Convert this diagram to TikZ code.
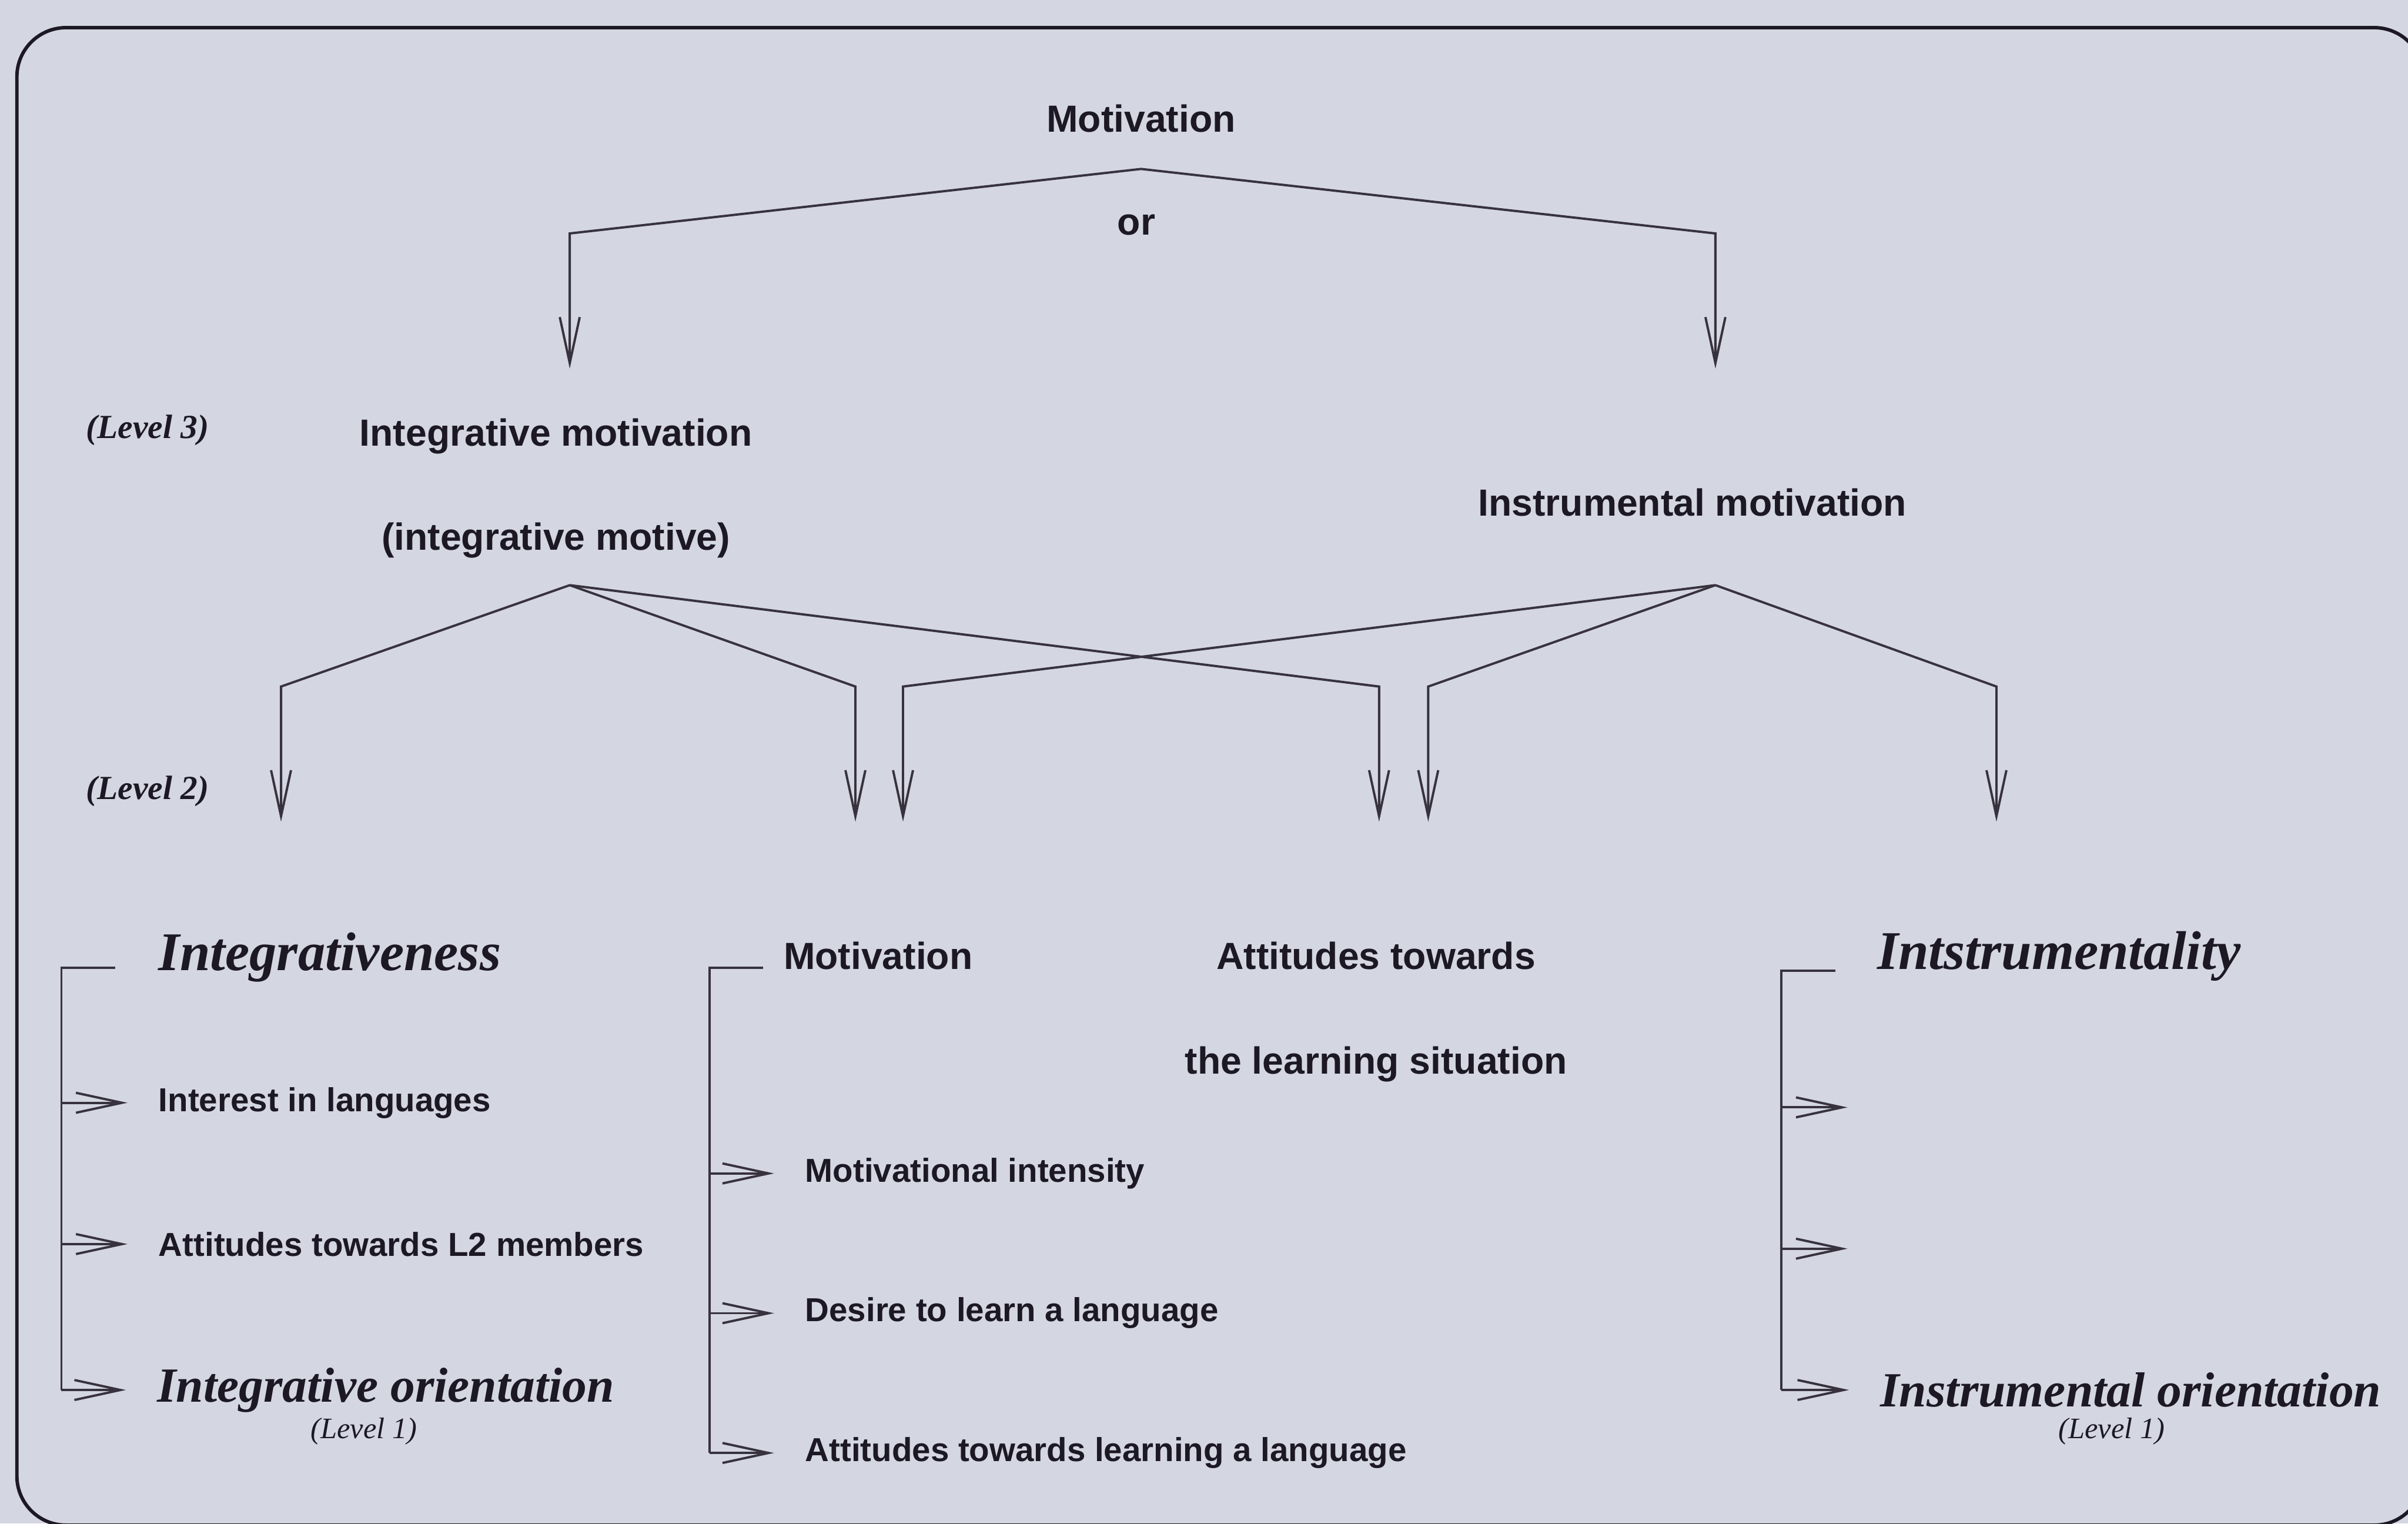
\documentclass[tikz,border=0pt]{standalone}
\usepackage{fontspec}
\setmainfont{Liberation Serif}
\setsansfont{Liberation Sans}
\usetikzlibrary{arrows.meta, calc}

\definecolor{paper}{RGB}{212,214,226}
\definecolor{ink}{RGB}{28,24,36}
\definecolor{wire}{RGB}{55,50,62}

\begin{document}
\begin{tikzpicture}[
    x=0.2mm, y=-0.2mm,
    text=ink,
    head/.style={font=\sffamily\bfseries\fontsize{14}{17}\selectfont, inner sep=0pt},
    item/.style={font=\sffamily\bfseries\fontsize{12.3}{15}\selectfont, inner sep=0pt, anchor=west},
    concept/.style={font=\rmfamily\bfseries\itshape\fontsize{20.2}{24}\selectfont, inner sep=0pt},
    orient/.style={font=\rmfamily\bfseries\itshape\fontsize{18.2}{22}\selectfont, inner sep=0pt, anchor=west},
    lvl/.style={font=\rmfamily\itshape\fontsize{11}{13}\selectfont, inner sep=0pt},
    lvlb/.style={font=\rmfamily\bfseries\itshape\fontsize{12.5}{14}\selectfont, inner sep=0pt},
    arrow/.style={-{Straight Barb[length=6mm, width=2.6mm]}, draw=wire, line width=0.3mm},
    bracket/.style={draw=wire, line width=0.3mm},
    frame/.style={draw=ink, line width=0.45mm, rounded corners=6.4mm},
]

\path[use as bounding box, fill=paper] (0,0) rectangle (1568,992);
\clip (0,0) rectangle (1568,992);
\draw[frame] (11,18) rectangle (1578,993);

% level 3
\node[head, anchor=base] (mot) at (743,86) {Motivation};
\node[head, anchor=base] (or) at (740,153) {or};
\node[lvlb] (lev3) at (96,280) {(Level 3)};
\node[head, anchor=north, align=center] (intm) at (362,272) {Integrative motivation\\[21.7pt](integrative motive)};
\node[head, anchor=base] (instm) at (1102,336) {Instrumental motivation};

% level 2
\node[lvlb] (lev2) at (96,515) {(Level 2)};
\node[concept, anchor=base west] (intg) at (103,632) {Integrativeness};
\node[head, anchor=base west] (motv) at (510,631) {Motivation};
\node[head, anchor=north, align=center] (atts) at (896,613) {Attitudes towards\\[21.7pt]the learning situation};
\node[concept, anchor=base west] (instr) at (1222,631) {Intstrumentality};

% level 1
\node[item] (intr) at (103,718) {Interest in languages};
\node[item] (attl2) at (103,810) {Attitudes towards L2 members};
\node[orient] (intor) at (102,905) {Integrative orientation};
\node[lvl] (lev1a) at (237,932) {(Level 1)};

\node[item] (motint) at (524,764) {Motivational intensity};
\node[item] (desire) at (524,855) {Desire to learn a language};
\node[item] (attlearn) at (524,946) {Attitudes towards learning a language};

\node[orient] (insor) at (1224,905) {Instrumental orientation};
\node[lvl] (lev1b) at (1375,932) {(Level 1)};
\coordinate (blank1) at (1223,721);
\coordinate (blank2) at (1223,813);

% branch points and arrow tips
\coordinate (msrc) at (743,110);
\coordinate (isrc) at (371,381);
\coordinate (nsrc) at (1117,381);
\coordinate (tint) at (371,240);
\coordinate (tins) at (1117,240);
\coordinate (ta) at (183,535);
\coordinate (tb) at (557,535);
\coordinate (tc) at (898,535);
\coordinate (td) at (588,535);
\coordinate (te) at (930,535);
\coordinate (tf) at (1300,535);

\foreach \s/\t in {msrc/tint, msrc/tins, isrc/ta, isrc/tb, isrc/tc, nsrc/td, nsrc/te, nsrc/tf}
    \draw[arrow] (\s) -- ($(\t)+(0,-88)$) -- (\t);

% brackets
\coordinate (bra) at (40,630);
\coordinate (brb) at (462,630);
\coordinate (brc) at (1160,632);

\draw[bracket] ($(bra)+(35,0)$) -- (bra) -- (bra |- intor.west);
\draw[bracket] ($(brb)+(35,0)$) -- (brb) -- (brb |- attlearn.west);
\draw[bracket] ($(brc)+(35,0)$) -- (brc) -- (brc |- insor.west);

\foreach \n in {intr, attl2, intor}
    \draw[arrow] (bra |- \n.west) -- ([xshift=-4mm]\n.west);
\foreach \n in {motint, desire, attlearn}
    \draw[arrow] (brb |- \n.west) -- ([xshift=-4mm]\n.west);
\draw[arrow] (brc |- blank1) -- ([xshift=-4mm]blank1);
\draw[arrow] (brc |- blank2) -- ([xshift=-4mm]blank2);
\draw[arrow] (brc |- insor.west) -- ([xshift=-4mm]insor.west);

\end{tikzpicture}
\end{document}
